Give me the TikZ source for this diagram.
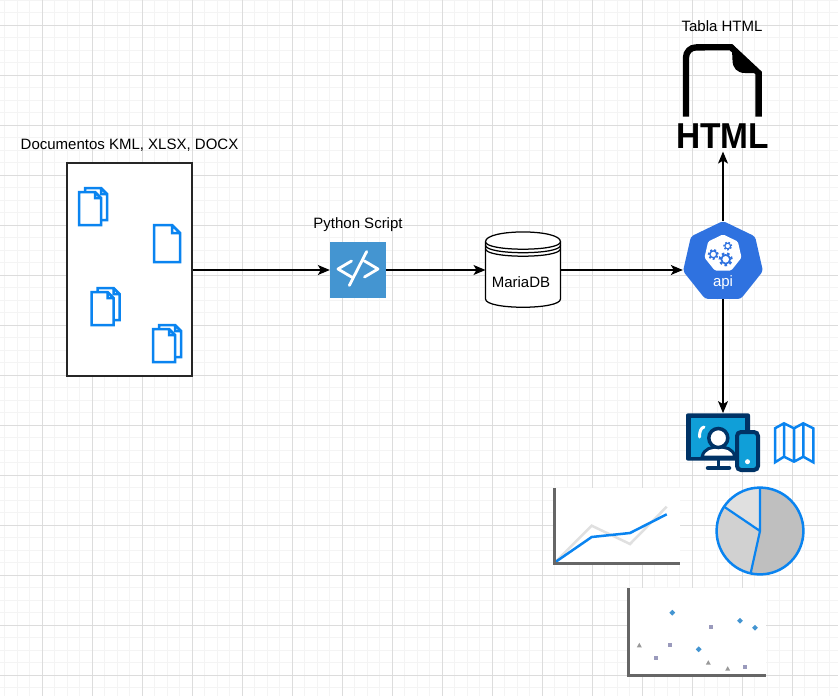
\documentclass[tikz,border=0pt]{standalone}
\usepackage{fontspec}
\setmainfont{Liberation Sans}
\usetikzlibrary{positioning}
\usetikzlibrary{shapes.geometric,arrows.meta}

\definecolor{gridminor}{HTML}{F4F4F4}
\definecolor{gridmajor}{HTML}{DCDCDC}
\definecolor{iconblue}{HTML}{0A84F0}
\definecolor{scriptblue}{HTML}{4495D1}
\definecolor{apiblue}{HTML}{2F72E0}
\definecolor{navy}{HTML}{003366}
\definecolor{screenblue}{HTML}{109FD8}
\definecolor{axisgray}{HTML}{666666}
\definecolor{squaregray}{HTML}{9A9ABC}

\tikzset{
  caption/.style={font=\fontsize{15}{18}\selectfont,inner sep=0pt},
  flow/.style={line width=1.25pt,-{Stealth[length=12pt,width=10pt,inset=3pt]}},
  pagestroke/.style={draw=iconblue,fill=white,line width=2.5pt,line join=miter},
  axis/.style={draw=axisgray,line width=2.5pt},
  plotarea/.style={fill=white,draw=none},
  hollow/.style={draw=none,inner sep=0pt,outer sep=0pt},
}

% one page, from its top left corner: x, y, width, height, fold
\newcommand{\pageicon}[5]{
  \draw[pagestroke,shift={(#1,#2)}] (0,0) -- (#3-#5,0) -- (#3,#5) -- (#3,#4) -- (0,#4) -- cycle
    (#3-#5,0) -- (#3-#5,#5) -- (#3,#5);
}
\newcommand{\stackicon}[2]{
  \pageicon{#1+6}{#2-4}{22}{32}{6}
  \pageicon{#1}{#2}{22}{33}{6}
}
\newcommand{\gearicon}[3]{
  \draw[apiblue,line width=#3*.3pt,dash pattern=on #3*.38pt off #3*.38pt] (#1,#2) circle[radius=#3*.85pt];
  \draw[apiblue,line width=#3*.24pt] (#1,#2) circle[radius=#3*.62pt];
}

\begin{document}
\begin{tikzpicture}[x=1pt,y=-1pt]
  \useasboundingbox (0,0) rectangle (838,696);
  \fill[white] (0,0) rectangle (838,696);
  % grid
  \foreach \gx in {0,...,67}
    \draw[gridminor,line width=1pt] (4.8+12.5*\gx,0) -- (4.8+12.5*\gx,696);
  \foreach \gy in {0,...,56}
    \draw[gridminor,line width=1pt] (0,0.3+12.5*\gy) -- (838,0.3+12.5*\gy);
  \foreach \gx in {0,...,15}
    \draw[gridmajor,line width=1pt] (42.3+50*\gx,0) -- (42.3+50*\gx,696);
  \foreach \gy in {0,...,13}
    \draw[gridmajor,line width=1pt] (0,25.3+50*\gy) -- (838,25.3+50*\gy);

  % documents
  \node(docs) at (129.5,269.5) [draw=black!85,fill=white,line width=1.25pt,minimum width=125pt,minimum height=213pt,inner sep=0pt] {};
  \node(docslabel) [caption,above=11pt of docs] {Documentos KML, XLSX, DOCX};
  \stackicon{79}{192}
  \pageicon{154}{225}{26}{37}{8}
  \stackicon{91.5}{292}
  \stackicon{153}{329}

  % script
  \node(script) at (358,270) [fill=scriptblue,minimum size=56pt,inner sep=0pt] {};
  \node(scriptlabel) [caption,above=10pt of script] {Python Script};
  \draw[white,line width=2.8pt,line cap=round,line join=round]
    (351.5,261) -- (338,269) -- (351.5,277)
    (364.5,261) -- (378,269) -- (364.5,277)
    (366.7,251.5) -- (349.3,285.5);

  % database
  \node(db) at (523,270) [hollow,minimum width=75pt,minimum height=75pt] {};
  \draw[fill=white,line width=1.25pt] (485.5,241.7) .. controls (485.5,228.7) and (560.5,228.7) .. (560.5,241.7)
    -- (560.5,299) .. controls (560.5,310) and (485.5,310) .. (485.5,299) -- cycle;
  \draw[line width=1.25pt]
    (485.5,241.7) .. controls (485.5,251.7) and (560.5,251.7) .. (560.5,241.7)
    (485.5,245.2) .. controls (485.5,255.2) and (560.5,255.2) .. (560.5,245.2)
    (485.5,248.7) .. controls (485.5,258.7) and (560.5,258.7) .. (560.5,248.7);
  \node(dblabel) at (521,282) [caption] {MariaDB};

  % api
  \node(api) at (723,262) [regular polygon,regular polygon sides=7,minimum size=82pt,inner sep=0pt,fill=apiblue,rounded corners=3pt] {};
  \node(apigears) at (723,253.4) [regular polygon,regular polygon sides=7,minimum size=38pt,inner sep=0pt,fill=white,rounded corners=1.5pt] {};
  \gearicon{713.3}{254.3}{5.5}
  \gearicon{727.7}{246}{4.5}
  \gearicon{725.7}{259.3}{7}
  \node(apilabel) at (723,283) [caption,text=white] {api};

  % html
  \node(htmllabel) at (722,26) [caption] {Tabla HTML};
  \node(htmltext) at (722.5,136) [inner sep=3pt,font=\fontsize{36}{40}\selectfont\bfseries,xscale=.93,transform shape] {HTML};
  \draw[line width=6.3pt,line join=miter] (686,116.7) -- (686,57.4) arc[start angle=180,end angle=90,radius=10pt] -- (731,47.2) -- (758.6,73) -- (758.6,116.7);
  \fill (731.7,44) -- (761.7,73) -- (745,73) .. controls (737,73) and (732.5,68) .. (732.5,60) -- cycle;

  % devices
  \node(screen) at (718,437) [fill=navy,minimum width=64pt,minimum height=47.4pt,inner sep=0pt,rounded corners=2pt] {};
  \fill[screenblue] (690.7,418) rectangle (745.3,456.7);
  \draw[white,line width=3pt,line cap=round] (699.5,437) .. controls (699.5,431) and (701,428) .. (704,427);
  \fill[white,draw=navy,line width=3pt] (702,457) .. controls (704,448) and (712,447) .. (718.5,447) .. controls (725,447) and (733,448) .. (735,457) -- cycle;
  \draw[fill=white,draw=navy,line width=3.5pt] (718.3,438) circle[radius=9.5pt];
  \draw[navy,line width=3.5pt] (718.3,460) -- (718.3,468);
  \draw[navy,line width=4.5pt,line cap=round] (708,468) -- (729,468);
  \node(phone) at (747.5,451) [fill=screenblue,draw=navy,line width=4pt,minimum width=21pt,minimum height=38pt,inner sep=0pt,rounded corners=4pt] {};
  \fill[white] (747.5,461.7) circle[radius=2.5pt];

  % map
  \draw[iconblue,line width=2.5pt,line join=miter]
    (775,428.3) -- (784,423.3) -- (794,428.3) -- (803.3,423.3) -- (813.3,428.3) -- (813.3,462.3)
    -- (803.3,456.7) -- (794,461.7) -- (784,456.7) -- (775,462.3) -- cycle
    (784,423.3) -- (784,456.7) (794,428.3) -- (794,461.7) (803.3,423.3) -- (803.3,456.7);

  % line chart
  \fill[plotarea] (554,488) rectangle (680,564);
  \draw[black!12,line width=2.5pt] (555,562.3) -- (591.7,525.7) -- (630,544) -- (666.7,506.7);
  \draw[iconblue,line width=2.5pt] (555,562.3) -- (591.7,537) -- (630,533) -- (666.7,514.3);
  \draw[axis] (554.3,488) -- (554.3,563.3) -- (679.5,563.3);

  % pie chart
  \coordinate(piecenter) at (760,531);
  \fill[black!25] (piecenter) -- (760,487.6) arc[start angle=90,end angle=-102.6,radius=43.4pt] -- cycle;
  \fill[black!18] (piecenter) -- (750.5,573.3) arc[start angle=-102.6,end angle=-214,radius=43.4pt] -- cycle;
  \fill[black!12] (piecenter) -- (724,506.7) arc[start angle=146,end angle=90,radius=43.4pt] -- cycle;
  \draw[iconblue,line width=2.5pt] (piecenter) circle[radius=43.4pt];
  \draw[iconblue,line width=2.2pt] (760,488) -- (piecenter) -- (750.7,573) (piecenter) -- (725,507.3);

  % scatter chart
  \fill[plotarea] (628,588) rectangle (766,677);
  \draw[axis] (628.6,588.3) -- (628.6,675.7) -- (765.7,675.7);
  \foreach \px/\py in {672.3/612.7,698.7/649.3,740/620.7,755/627.7}
    \node[diamond,fill=scriptblue,inner sep=0pt,minimum size=6pt] at (\px,\py) {};
  \foreach \px/\py in {711/626.7,670/645,656/658.3,745.3/667}
    \fill[squaregray] (\px-2,\py-2) rectangle (\px+2,\py+2);
  \foreach \px/\py in {639.3/645.3,708.3/662.7,727.7/668.7}
    \fill[black!40] (\px-2.5,\py+2) -- (\px+2.5,\py+2) -- (\px,\py-2.5) -- cycle;

  % connectors
  \draw[flow] (script.west -| docs.east) -- (script.west);
  \draw[flow] (script.east) -- (db.west);
  \draw[flow] (db.east) -- (db.east -| api.corner 3);
  \draw[flow] (api.north) -- (api.north |- htmltext.south);
  \draw[flow] (api.south) -- (api.south |- screen.north);
\end{tikzpicture}
\end{document}
